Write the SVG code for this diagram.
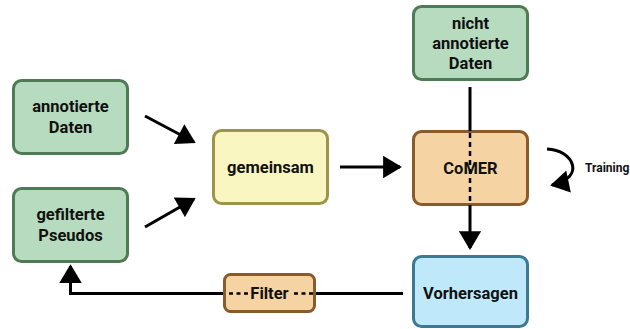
<svg xmlns="http://www.w3.org/2000/svg" width="630" height="329" viewBox="0 0 630 329">
  <defs>
    <marker id="arrow" viewBox="0 0 10 12" refX="9" refY="6" markerWidth="6.5" markerHeight="7.5" markerUnits="strokeWidth" orient="auto">
      <path d="M0,0 L10,6 L0,12 Z" fill="#000"/>
    </marker>
    <style>
      .box { stroke-width: 3; }
      .green { fill: #b6dbbe; stroke: #4f7a56; }
      .yellow { fill: #f9f6c2; stroke: #9d9449; }
      .orange { fill: #f6d3a3; stroke: #8a5b2a; }
      .blue { fill: #bfe9fb; stroke: #3e7993; }
      .label { font-family: Roboto, "Liberation Sans", sans-serif; font-weight: bold; font-size: 16.5px; fill: #111; text-anchor: middle; }
      .small { font-family: Roboto, "Liberation Sans", sans-serif; font-weight: bold; font-size: 12px; fill: #111; }
      .line { fill: none; stroke: #000; stroke-width: 3; }
      .dash { fill: none; stroke: #000; stroke-width: 2.5; stroke-dasharray: 5 4; }
      .dash-short { fill: none; stroke: #000; stroke-width: 2.5; stroke-dasharray: 4 3.5; }
    </style>
  </defs>

  <g id="node-annotierte">
    <rect class="box green" x="13.5" y="80.5" width="114" height="73" rx="8"/>
    <text class="label" x="70.5" y="112">annotierte</text>
    <text class="label" x="70.5" y="133">Daten</text>
  </g>

  <g id="node-pseudos">
    <rect class="box green" x="13.5" y="188.5" width="114" height="73" rx="8"/>
    <text class="label" x="70.5" y="220">gefilterte</text>
    <text class="label" x="70.5" y="241">Pseudos</text>
  </g>

  <g id="node-gemeinsam">
    <rect class="box yellow" x="213.5" y="130.5" width="114" height="73" rx="8"/>
    <text class="label" x="270.5" y="173">gemeinsam</text>
  </g>

  <g id="node-nicht-annotiert">
    <rect class="box green" x="413.5" y="6.5" width="114" height="73" rx="8"/>
    <text class="label" x="470.5" y="29">nicht</text>
    <text class="label" x="470.5" y="49">annotierte</text>
    <text class="label" x="470.5" y="69">Daten</text>
  </g>

  <g id="node-comer">
    <rect class="box orange" x="413.5" y="131.5" width="114" height="73" rx="8"/>
    <text class="label" x="470.5" y="174">CoMER</text>
  </g>

  <g id="node-vorhersagen">
    <rect class="box blue" x="413.5" y="256.5" width="114" height="70" rx="8"/>
    <text class="label" x="470.5" y="299">Vorhersagen</text>
  </g>

  <g id="node-filter">
    <rect class="box orange" x="224.5" y="274.5" width="90" height="37" rx="6"/>
    <text class="label" x="269.5" y="299">Filter</text>
  </g>

  <g id="connectors">
    <!-- inputs into the shared pool -->
    <path class="line" d="M145,116 L194,142" marker-end="url(#arrow)"/>
    <path class="line" d="M145,227 L194,199" marker-end="url(#arrow)"/>
    <!-- shared pool into the model -->
    <path class="line" d="M340,167 L400,167" marker-end="url(#arrow)"/>
    <!-- unlabelled data through the model to predictions -->
    <path class="line" d="M470,87 L470,131"/>
    <path class="dash" d="M470,133 L470,204"/>
    <path class="line" d="M470,205 L470,248" marker-end="url(#arrow)"/>
    <!-- predictions back through the filter -->
    <path class="line" d="M403,293.5 L316,293.5"/>
    <path class="dash-short" d="M313,293.5 L291,293.5"/>
    <path class="dash-short" d="M248,293.5 L226,293.5"/>
    <path class="line" d="M223,293.5 L70.5,293.5 L70.5,266" marker-end="url(#arrow)"/>
    <!-- training loop -->
    <path class="line" d="M547,149 C574,150 586,178 552,185" marker-end="url(#arrow)"/>
    <text class="small" x="585" y="172">Training</text>
  </g>
</svg>
